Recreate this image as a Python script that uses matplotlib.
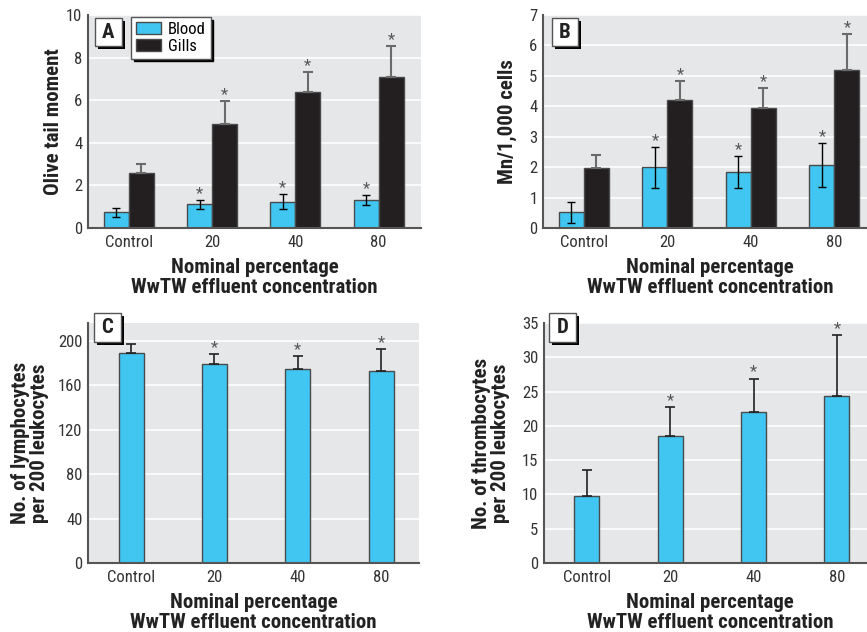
import numpy as np
import matplotlib
matplotlib.use("Agg")
import matplotlib.pyplot as plt
from matplotlib import font_manager as fm
from matplotlib.patches import Rectangle

# ---------------- data ----------------
categories = ["Control", "20", "40", "80"]

# Panel A: Olive tail moment
a_blood = [0.73, 1.11, 1.23, 1.31]
a_blood_err = [0.20, 0.22, 0.36, 0.22]
a_gills = [2.59, 4.86, 6.39, 7.09]
a_gills_err = [0.41, 1.09, 0.92, 1.47]
a_blood_sig = [False, True, True, True]
a_gills_sig = [False, True, True, True]

# Panel B: Mn/1,000 cells
b_blood = [0.51, 1.99, 1.83, 2.07]
b_blood_err = [0.36, 0.68, 0.52, 0.72]
b_gills = [1.98, 4.21, 3.94, 5.20]
b_gills_err = [0.42, 0.63, 0.65, 1.16]
b_blood_sig = [False, True, True, True]
b_gills_sig = [False, True, True, True]

# Panel C: lymphocytes per 200 leukocytes
c_vals = [189.2, 179.5, 175.0, 173.2]
c_err = [8.0, 8.5, 11.0, 19.0]
c_sig = [False, True, True, True]

# Panel D: thrombocytes per 200 leukocytes
d_vals = [9.8, 18.5, 22.0, 24.4]
d_err = [3.8, 4.2, 4.9, 8.8]
d_sig = [False, True, True, True]

# ---------------- fonts ----------------
names = {f.name for f in fm.fontManager.ttflist}
narrow = None
for cand in ["Liberation Sans Narrow", "Roboto Condensed", "Open Sans Condensed",
             "DejaVu Sans Condensed"]:
    if cand in names:
        narrow = cand
        break
if narrow is None:
    for f in fm.fontManager.ttflist:
        if f.name == "DejaVu Sans" and "condensed" in str(f.stretch):
            narrow = "DejaVu Sans"
            break
if narrow is not None:
    FAM = [narrow, "DejaVu Sans"]
    scale = 1.0
else:
    FAM = ["Liberation Sans", "DejaVu Sans"]
    scale = 0.85

plt.rcParams["font.family"] = FAM
if narrow == "DejaVu Sans":
    plt.rcParams["font.stretch"] = "condensed"

TICK_FS = 12 * scale
LAB_FS = 15 * scale
BLUE = "#40c6f1"
BLACK = "#231f20"
BG = "#e6e7e8"
EDGE = "#4a4a4a"
STAR = "#555555"

W, H = 867, 632
fig = plt.figure(figsize=(W / 100, H / 100), dpi=100)


def px_axes(l, t, r, b):
    return fig.add_axes([l / W, 1 - b / H, (r - l) / W, (b - t) / H])


axA = px_axes(88, 15, 421, 228)
axB = px_axes(543, 15, 867, 228)
axC = px_axes(88, 323, 419, 563)
axD = px_axes(544, 323, 867, 563)


def style(ax, ylim, yticks, xlim, ylabel, ylab_x, xlab_x, xlab_y):
    ax.set_facecolor(BG)
    ax.set_ylim(*ylim)
    ax.set_xlim(*xlim)
    ax.set_yticks(yticks)
    ax.set_yticklabels([str(t) for t in yticks])
    ax.set_xticks(np.arange(len(categories)))
    ax.set_xticklabels(categories)
    ax.tick_params(length=0, labelsize=TICK_FS, colors="#333333")
    ax.tick_params(axis="y", pad=4)
    ax.tick_params(axis="x", pad=5)
    for s in ["top", "right"]:
        ax.spines[s].set_visible(False)
    for s in ["left", "bottom"]:
        ax.spines[s].set_color("#555555")
        ax.spines[s].set_linewidth(1.5)
    ax.yaxis.grid(True, color="white", linewidth=1.2)
    ax.set_axisbelow(True)
    ax.set_ylabel(ylabel, fontsize=LAB_FS, fontweight="bold", va="center",
                  linespacing=1.0, color="#222222")
    ax.yaxis.set_label_coords(ylab_x, 0.5)
    ax.set_xlabel("Nominal percentage\nWwTW effluent concentration",
                  fontsize=LAB_FS, fontweight="bold", va="top",
                  linespacing=1.05, color="#222222")
    ax.xaxis.set_label_coords(xlab_x, xlab_y)


def stars(ax, xs, tops, sig):
    for x, t, s in zip(xs, tops, sig):
        if s:
            ax.annotate("*", xy=(x, t), xytext=(0, 1.5), textcoords="offset points",
                        ha="center", va="baseline", fontsize=TICK_FS, color=STAR)


x = np.arange(len(categories))
bw = 0.3

# ---- Panels A, B ----
for ax, bl, ble, gi, gie, bsig, gsig in [
    (axA, a_blood, a_blood_err, a_gills, a_gills_err, a_blood_sig, a_gills_sig),
    (axB, b_blood, b_blood_err, b_gills, b_gills_err, b_blood_sig, b_gills_sig),
]:
    ax.bar(x - bw / 2, bl, bw, color=BLUE, edgecolor=EDGE, linewidth=1, label="Blood", zorder=2)
    ax.bar(x + bw / 2, gi, bw, color=BLACK, edgecolor=EDGE, linewidth=1, label="Gills", zorder=2)
    ax.errorbar(x - bw / 2, bl, yerr=ble, fmt="none", ecolor="black", elinewidth=1,
                capsize=3, capthick=1, zorder=3)
    ax.errorbar(x + bw / 2, gi, yerr=[np.zeros(len(gi)), gie], fmt="none", ecolor="#6b6b6b",
                elinewidth=1.5, capsize=3.5, capthick=1.5, zorder=3)
    stars(ax, x - bw / 2, np.array(bl) + np.array(ble), bsig)
    stars(ax, x + bw / 2, np.array(gi) + np.array(gie), gsig)

style(axA, (0, 10), [0, 2, 4, 6, 8, 10], (-0.49, 3.51), "Olive tail moment",
      -0.105, 0.5, -0.14)
style(axB, (0, 7), [0, 1, 2, 3, 4, 5, 6, 7], (-0.49, 3.39), "Mn/1,000 cells",
      -0.11, 0.515, -0.14)

# ---- Panels C, D ----
for ax, v, e, sig in [(axC, c_vals, c_err, c_sig), (axD, d_vals, d_err, d_sig)]:
    ax.bar(x, v, bw, color=BLUE, edgecolor=EDGE, linewidth=1, zorder=2)
    ax.errorbar(x, v, yerr=[np.zeros(len(v)), e], fmt="none", ecolor="#222222",
                elinewidth=1.2, capsize=3.5, capthick=1.2, zorder=3)
    stars(ax, x, np.array(v) + np.array(e), sig)

style(axC, (0, 216), [0, 40, 80, 120, 160, 200], (-0.516, 3.456),
      "No. of lymphocytes\nper 200 leukocytes", -0.175, 0.5, -0.125)
style(axD, (0, 35), [0, 5, 10, 15, 20, 25, 30, 35], (-0.512, 3.36),
      "No. of thrombocytes\nper 200 leukocytes", -0.165, 0.515, -0.125)

# ---- Legend in panel A ----
leg = axA.legend(loc="upper left", bbox_to_anchor=(131 / W, 1 - 17 / H),
                 bbox_transform=fig.transFigure, borderaxespad=0,
                 fontsize=TICK_FS, frameon=True, fancybox=False,
                 shadow={"color": "black", "alpha": 1},
                 handlelength=1.5, handleheight=0.7, handletextpad=0.4,
                 labelspacing=0.1, borderpad=0.3)
leg.get_frame().set_edgecolor("#555555")
leg.get_frame().set_linewidth(1)
leg.get_frame().set_facecolor("white")
leg.get_frame().set_alpha(1)


# ---- Panel letters ----
def panel_box(l, t, w, h, letter):
    fig.add_artist(Rectangle(((l + 3) / W, 1 - (t + h + 3) / H), w / W, h / H,
                             transform=fig.transFigure, facecolor="black",
                             edgecolor="none", zorder=5))
    fig.add_artist(Rectangle((l / W, 1 - (t + h) / H), w / W, h / H,
                             transform=fig.transFigure, facecolor="white",
                             edgecolor="#555555", linewidth=1, zorder=6))
    fig.text((l + w / 2) / W, 1 - (t + h / 2) / H, letter, ha="center", va="center",
             fontsize=LAB_FS, fontweight="bold", color="#222222", zorder=7)


panel_box(95, 18, 27, 28, "A")
panel_box(552, 18, 26, 28, "B")
panel_box(94, 313, 27, 29, "C")
panel_box(549, 313, 27, 29, "D")

fig.savefig("out.png", dpi=100)
